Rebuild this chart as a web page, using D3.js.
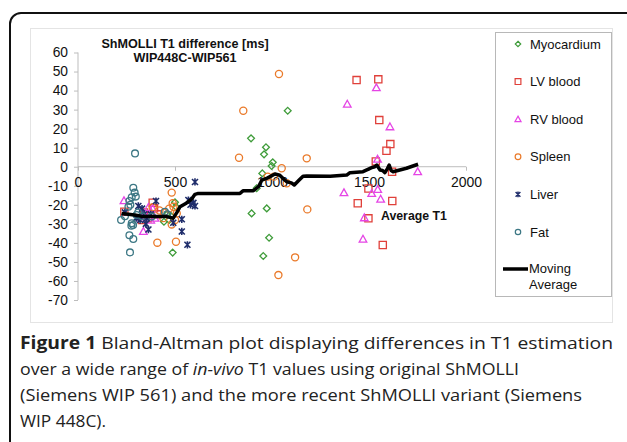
<!DOCTYPE html>
<html><head><meta charset="utf-8">
<script src="https://cdn.jsdelivr.net/npm/d3@7"></script>
<style>
html,body{margin:0;padding:0;background:#fff;}
svg{display:block;}
</style></head>
<body>
<svg id="c" width="627" height="442"></svg>
<script>
// ---- data ----
const xTicks = [0, 500, 1000, 1500, 2000];
const yTicks = [60, 50, 40, 30, 20, 10, 0, -10, -20, -30, -40, -50, -60, -70];
const seriesNames = ["Myocardium", "LV blood", "RV blood", "Spleen", "Liver", "Fat"];
const myocardium = [[1081,29.4],[892,14.9],[969,10.2],[959,6.5],[1004,2.3],[998,0.4],[950,-3.5],[921,-11.3],[895,-24.5],[973,-21.9],[985,-37.3],[955,-46.9],
  [488,-45.1],[443,-28.9],[470,-28],[500,-18.7],[505,-21],[480,-26],[460,-25]];
const lvBlood = [[1436,45.5],[1548,45.9],[1553,24.5],[1610,11.9],[1590,8.4],[1535,2.8],[1619,-2.6],[1497,-11.4],[1442,-19.2],[1620,-18],[1497,-27.1],[1571,-41.1],
  [239,-23.6],[385,-18.9],[392,-21.8],[340,-24],[360,-27],[330,-28],[410,-25]];
const rvBlood = [[1388,32.9],[1538,41.5],[1608,21],[1544,4],[1751,-2.6],[1371,-13.6],[1514,-14],[1545,-11.9],[1560,-17],[1476,-26.8],[1469,-38],
  [237,-17.8],[337,-34],[363,-21.3],[397,-27],[350,-26],[330,-27],[375,-28],[385,-22]];
const spleen = [[1036,48.7],[852,29.4],[830,4.7],[1179,4.4],[1050,-0.8],[978,-5.2],[1010,-5.2],[1076,-8.7],[1182,-22.4],[1119,-47.6],[1033,-56.9],
  [483,-13.6],[488,-19.2],[492,-21],[445,-24.1],[509,-24.5],[483,-30.3],[505,-39.4],[409,-39.9],[385,-21.3],[420,-23],[470,-22],[500,-28],[440,-27]];
const liver = [[603,-8],[595,-19],[603,-20.6],[569,-17.5],[580,-20],[535,-27.6],[535,-34],[564,-41],[491,-29.4],[402,-18],[311,-20.6],[354,-27],[363,-33],
  [330,-22],[340,-25],[320,-28],[242,-24],[300,-27],[375,-25],[350,-30]];
const fat = [[294,7],[285,-11],[292,-13.6],[277,-16],[298,-15.7],[265,-18],[260,-21],[270,-20],[242,-26],[222,-28],[277,-29.7],[284,-30.6],[275,-31],
  [265,-36],[285,-38],[268,-45],[302,-25.4],[310,-24],[330,-26],[380,-26.2],[448,-23.6],[460,-25]];
const movingAverage = [[225,-24.5],[260,-25],[300,-25.5],[337,-26.2],[400,-26.2],[457,-26.2],[491,-27],[510,-24],[526,-21],[560,-19],[586,-17],[603,-14.5],
  [620,-14],[835,-14],[852,-12.6],[904,-12.6],[930,-10.5],[948,-7],[975,-6],[990,-5.2],[1015,-3.8],[1040,-4.5],[1060,-6.5],[1076,-7.9],[1100,-8.5],
  [1115,-9.6],[1140,-7],[1160,-5],[1179,-4.9],[1300,-5],[1385,-4.4],[1402,-3.1],[1469,-2.6],[1514,-0.5],[1530,0],[1540,0.9],[1557,-1.7],[1570,-2],
  [1582,-3.1],[1595,-1],[1604,0.9],[1614,-2],[1624,-2.6],[1693,-0.8],[1753,1.3]];
const titleLines = ["ShMOLLI T1 difference [ms]", "WIP448C-WIP561"];
const xTitle = "Average T1";

// ---- drawing ----
const svg = d3.select("#c");
const F = "'Liberation Sans', Arial, sans-serif";
const x = d3.scaleLinear().domain([0, 2000]).range([78, 466]);
const y = d3.scaleLinear().domain([-70, 60]).range([300, 52.5]);

// outer frame
svg.append("rect").attr("x", 10).attr("y", 13).attr("width", 660).attr("height", 480)
  .attr("rx", 11).attr("fill", "none").attr("stroke", "#111").attr("stroke-width", 2);
// chart panel
svg.append("rect").attr("x", 30.5).attr("y", 28.5).attr("width", 582).attr("height", 294)
  .attr("fill", "#fff").attr("stroke", "#e4e4e4").attr("stroke-width", 1);

// y axis
const gy = svg.append("g").attr("transform", `translate(${x(0)},0)`)
  .call(d3.axisLeft(y).tickValues(yTicks).tickSize(4).tickPadding(6).tickFormat(d => String(d)));
gy.select(".domain").attr("stroke", "#bdbdbd").attr("d", `M0,${y(60)}V${y(-70)}`);
gy.selectAll(".tick line").attr("stroke", "#bdbdbd");
gy.selectAll(".tick text").attr("font-family", F).attr("font-size", 13.8).attr("fill", "#111");

// x axis at y=0
const gx = svg.append("g").attr("transform", `translate(0,${y(0)})`)
  .call(d3.axisBottom(x).tickValues(xTicks).tickSize(4).tickPadding(6).tickFormat(d => String(d)));
gx.select(".domain").attr("stroke", "#bdbdbd").attr("d", `M${x(0)},0H${x(2000)}`);
gx.selectAll(".tick line").attr("stroke", "#bdbdbd");
gx.selectAll(".tick text").attr("font-family", F).attr("font-size", 14).attr("fill", "#111");

// title
svg.append("text").attr("x", 185).attr("y", 47.5).attr("text-anchor", "middle")
  .attr("font-family", F).attr("font-weight", "bold").attr("font-size", 12.6).attr("fill", "#111").text(titleLines[0]);
svg.append("text").attr("x", 185).attr("y", 62).attr("text-anchor", "middle")
  .attr("font-family", F).attr("font-weight", "bold").attr("font-size", 12.6).attr("fill", "#111").text(titleLines[1]);
svg.append("text").attr("x", 381).attr("y", 220)
  .attr("font-family", F).attr("font-weight", "bold").attr("font-size", 12.3).attr("fill", "#111").text(xTitle);

// markers
const colors = {"Myocardium":"#3f9c3a","LV blood":"#e0403a","RV blood":"#e545e5","Spleen":"#ea7a2a","Liver":"#1f2d6b","Fat":"#3c7784"};
function markerPath(name) {
  switch (name) {
    case "Myocardium": return "M0,-3.4L3.4,0L0,3.4L-3.4,0Z";
    case "LV blood": return "M-3.6,-3.6H3.6V3.6H-3.6Z";
    case "RV blood": return "M0,-3.8L3.8,3H-3.8Z";
    case "Spleen": return d3.symbol(d3.symbolCircle, 40)();
    case "Liver": return "M-3,-3L3,3M3,-3L-3,3M0,-3.6V3.6";
    case "Fat": return d3.symbol(d3.symbolCircle, 36)();
  }
}
const seriesData = [myocardium, lvBlood, rvBlood, spleen, liver, fat];
seriesData.forEach((data, i) => {
  const name = seriesNames[i];
  svg.append("g").selectAll("path").data(data).join("path")
    .attr("transform", d => `translate(${x(d[0])},${y(d[1])})`)
    .attr("d", markerPath(name))
    .attr("fill", "none").attr("stroke", colors[name])
    .attr("stroke-width", name === "Liver" ? 1.6 : 1.3);
});

// moving average
svg.append("path").datum(movingAverage)
  .attr("d", d3.line().x(d => x(d[0])).y(d => y(d[1])))
  .attr("fill", "none").attr("stroke", "#000").attr("stroke-width", 3.5).attr("stroke-linejoin", "round");

// legend
svg.append("rect").attr("x", 495.5).attr("y", 32.5).attr("width", 116).attr("height", 264)
  .attr("fill", "#fff").attr("stroke", "#b8b8b8").attr("stroke-width", 1);
seriesNames.forEach((name, i) => {
  const cy = 44 + i * 37.6;
  svg.append("path").attr("transform", `translate(518,${cy}) scale(0.8)`)
    .attr("d", markerPath(name)).attr("fill", "none").attr("stroke", colors[name])
    .attr("stroke-width", name === "Liver" ? 1.8 : 1.5);
  svg.append("text").attr("x", 530).attr("y", cy + 4.5)
    .attr("font-family", F).attr("font-size", 13).attr("fill", "#111").text(name);
});
svg.append("line").attr("x1", 503).attr("x2", 528).attr("y1", 269).attr("y2", 269)
  .attr("stroke", "#000").attr("stroke-width", 3.5);
svg.append("text").attr("x", 529).attr("y", 273)
  .attr("font-family", F).attr("font-size", 13).attr("fill", "#111").text("Moving");
svg.append("text").attr("x", 529).attr("y", 289)
  .attr("font-family", F).attr("font-size", 13).attr("fill", "#111").text("Average");

// caption
const CF = "'Open Sans', 'Noto Sans', sans-serif";
const cap = svg.append("g").attr("font-family", CF).attr("font-size", 17).attr("fill", "#222");
const l1 = cap.append("text").attr("x", 20).attr("y", 349).attr("textLength", 593).attr("lengthAdjust", "spacingAndGlyphs");
l1.append("tspan").attr("font-weight", "bold").text("Figure 1");
l1.append("tspan").text(" Bland-Altman plot displaying differences in T1 estimation");
const l2 = cap.append("text").attr("x", 20).attr("y", 375).attr("textLength", 499).attr("lengthAdjust", "spacingAndGlyphs");
l2.append("tspan").text("over a wide range of ");
l2.append("tspan").attr("font-style", "italic").text("in-vivo");
l2.append("tspan").text(" T1 values using original ShMOLLI");
cap.append("text").attr("x", 20).attr("y", 401).attr("textLength", 562).attr("lengthAdjust", "spacingAndGlyphs")
  .text("(Siemens WIP 561) and the more recent ShMOLLI variant (Siemens");
cap.append("text").attr("x", 20).attr("y", 427).attr("textLength", 86).attr("lengthAdjust", "spacingAndGlyphs")
  .text("WIP 448C).");
</script>
</body></html>
